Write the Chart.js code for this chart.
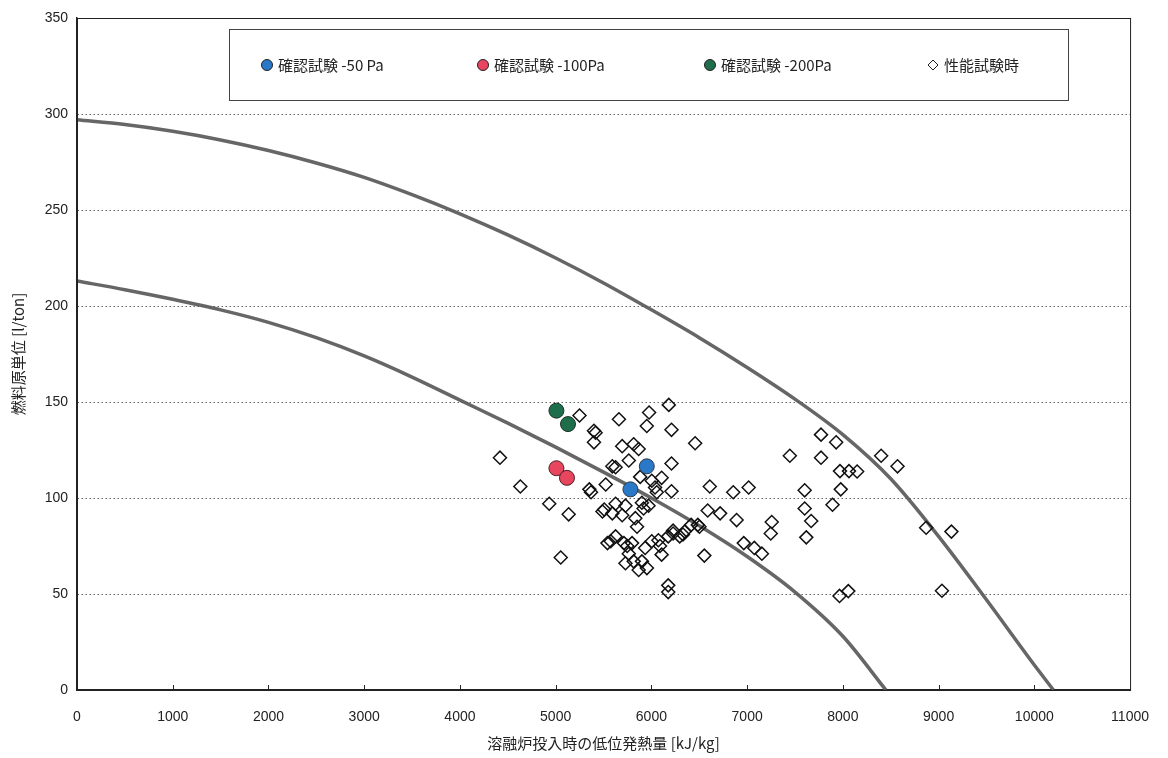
<!DOCTYPE html>
<html>
<head>
<meta charset="utf-8">
<script src="https://cdn.jsdelivr.net/npm/chart.js@4"></script>
<style>
body { margin: 0; background: #fff; }
</style>
</head>
<body>
<canvas id="fuel-graph" width="1168" height="758"></canvas>
<script>
// boundary curves
const upperX = [0, 500, 1000, 1500, 2000, 2500, 3000, 3500, 4000, 4500, 5000, 5500, 6000, 6500, 7000, 7500, 8000, 8500, 9000, 9500, 10000, 10200];
const upperY = [297, 294.5, 291, 286.5, 281, 274.5, 267, 258, 248, 237, 225, 212, 198, 183.5, 168, 151.5, 133, 110, 80, 47, 13, 0];
const lowerX = [0, 500, 1000, 1500, 2000, 2500, 3000, 3500, 4000, 4500, 5000, 5500, 6000, 6500, 7000, 7500, 8000, 8450];
const lowerY = [213, 208.5, 203.5, 198, 191.5, 183.5, 174, 163, 151, 139, 126.5, 113.5, 100, 85.5, 69.5, 51, 28, 0];

// confirmation tests
const test50X = [5952, 5781];
const test50Y = [116.5, 104.5];
const test100X = [5008, 5118];
const test100Y = [115.5, 110.5];
const test200X = [5008, 5129];
const test200Y = [145.5, 138.5];

// performance test points
const perfX = [4418, 4631, 4933, 5136, 5053, 5249, 5400, 5417, 5400, 5352, 5369, 5523, 5661, 5976, 6182, 5952, 6210, 5695, 5815, 5867,
    5764, 6210, 5592, 5626, 5883, 6004, 6107, 6038, 6056, 6210, 5901, 5626, 5507, 6457, 6610, 6855, 7016, 6588, 6718, 6890,
    6485, 6416, 6330, 6227, 7257, 7247, 6553, 6965, 7075, 7154, 7446, 7772, 7772, 7930, 7601, 7601, 7669, 7618, 7892, 7970,
    8064, 8149, 7978, 8400, 8571, 8870, 9134, 7965, 8057, 9035, 6176, 6176, 5489, 5729, 5592, 5695, 5832, 5850, 5918, 5970,
    5541, 5575, 5626, 5713, 5747, 5798, 5764, 5729, 5815, 5901, 5867, 5953, 5935, 6004, 6073, 6090, 6107, 6176, 6227, 6296,
    6347, 6502];
const perfY = [121, 106, 97, 91.5, 69, 143, 135, 134, 129, 104.5, 103, 107, 141, 144.5, 148.5, 137.5, 135.5, 127, 128, 125.5,
    119.5, 118, 116.5, 116, 111, 109, 110.5, 105.5, 103, 103.5, 97.5, 97, 94, 128.5, 106, 103, 105.5, 93.5, 92, 88.5,
    86, 86, 81, 83, 87.5, 81.5, 70, 76.5, 74, 71, 122, 133, 121, 129, 104, 94.5, 88, 79.5, 96.5, 114,
    114, 113.8, 104.5, 122, 116.5, 84.5, 82.5, 49, 51.5, 51.7, 54.5, 51, 93, 96, 92, 91, 89.5, 85, 94.5, 96,
    76.5, 77.5, 80, 76.5, 75, 76.5, 71, 66, 67, 67, 62.5, 63.5, 74, 77.5, 78, 75, 70.5, 80, 81.5, 80,
    82.5, 85];

const xTicks = [0, 1000, 2000, 3000, 4000, 5000, 6000, 7000, 8000, 9000, 10000, 11000];
const yTicks = [0, 50, 100, 150, 200, 250, 300, 350];

function toPoints(xs, ys) {
    let pts = Array(xs.length);
    for (let i = 0; i < xs.length; i++) {
        pts[i] = {x: xs[i], y: ys[i]};
    }
    return pts;
}

// legend box inside the plot + frame + small x tick marks
const boxPlugin = {
    id: 'boxPlugin',
    afterDraw(chart) {
        const ctx = chart.ctx;
        const area = chart.chartArea;
        const xs = chart.scales.x;
        ctx.save();
        ctx.strokeStyle = '#222';
        ctx.lineWidth = 1;
        ctx.strokeRect(area.left + 0.5, area.top + 0.5, area.right - area.left, area.bottom - area.top);
        for (let i = 1; i < xTicks.length - 1; i++) {
            let px = Math.round(xs.getPixelForValue(xTicks[i])) + 0.5;
            ctx.beginPath();
            ctx.moveTo(px, area.bottom);
            ctx.lineTo(px, area.bottom - 5);
            ctx.stroke();
        }

        // legend
        ctx.fillStyle = '#fff';
        ctx.fillRect(229, 29, 839, 71);
        ctx.strokeStyle = '#444';
        ctx.strokeRect(229.5, 29.5, 839, 71);
        const itemX = [267, 483, 710, 933];
        const ly = 65;
        ctx.font = '15px "Noto Sans CJK JP"';
        ctx.textBaseline = 'middle';
        const order = [2, 3, 4, 5];
        for (let i = 0; i < order.length; i++) {
            const ds = chart.data.datasets[order[i]];
            ctx.lineWidth = 1;
            ctx.strokeStyle = '#222';
            if (ds.pointStyle === 'rectRot') {
                ctx.beginPath();
                ctx.moveTo(itemX[i], ly - 5);
                ctx.lineTo(itemX[i] + 5, ly);
                ctx.lineTo(itemX[i], ly + 5);
                ctx.lineTo(itemX[i] - 5, ly);
                ctx.closePath();
                ctx.stroke();
            } else {
                ctx.beginPath();
                ctx.arc(itemX[i], ly, 5.5, 0, Math.PI * 2);
                ctx.fillStyle = ds.backgroundColor;
                ctx.fill();
                ctx.stroke();
            }
            ctx.fillStyle = '#222';
            ctx.fillText(ds.label, itemX[i] + 11, ly);
        }
        ctx.restore();
    }
};

const ctx = document.getElementById('fuel-graph');
new Chart(ctx, {
    type: 'scatter',
    data: {
        datasets: [
            {
                label: 'upper',
                data: toPoints(upperX, upperY),
                showLine: true,
                borderColor: 'rgba(85,85,85,0.9)',
                borderWidth: 3.5,
                pointRadius: 0,
                cubicInterpolationMode: 'monotone',
                order: 5
            },
            {
                label: 'lower',
                data: toPoints(lowerX, lowerY),
                showLine: true,
                borderColor: 'rgba(85,85,85,0.9)',
                borderWidth: 3.5,
                pointRadius: 0,
                cubicInterpolationMode: 'monotone',
                order: 5
            },
            {
                label: '確認試験 -50 Pa',
                data: toPoints(test50X, test50Y),
                backgroundColor: '#2a78c8',
                borderColor: '#2a3a4a',
                borderWidth: 1,
                pointRadius: 7.5,
                order: 1
            },
            {
                label: '確認試験 -100Pa',
                data: toPoints(test100X, test100Y),
                backgroundColor: '#e8455e',
                borderColor: '#4a2228',
                borderWidth: 1,
                pointRadius: 7.5,
                order: 1
            },
            {
                label: '確認試験 -200Pa',
                data: toPoints(test200X, test200Y),
                backgroundColor: '#1e6e4c',
                borderColor: '#1d3328',
                borderWidth: 1,
                pointRadius: 7.5,
                order: 1
            },
            {
                label: '性能試験時',
                data: toPoints(perfX, perfY),
                pointStyle: 'rectRot',
                backgroundColor: 'rgba(255,255,255,0)',
                borderColor: '#111',
                borderWidth: 1.5,
                pointRadius: 6.5,
                order: 2
            }
        ]
    },
    options: {
        responsive: false,
        animation: false,
        layout: {
            padding: {left: 0, right: 23, top: 18, bottom: 0}
        },
        plugins: {
            legend: {display: false},
            tooltip: {enabled: false}
        },
        scales: {
            x: {
                type: 'linear',
                min: 0,
                max: 11000,
                afterBuildTicks: (scale) => { scale.ticks = xTicks.map(v => ({value: v})); },
                afterFit: (scale) => { scale.height = 68; },
                grid: {display: false, drawTicks: false},
                border: {display: true, color: '#222', width: 1.5},
                ticks: {
                    padding: 19,
                    color: '#222',
                    font: {family: '"Liberation Sans", Arial', size: 14},
                    maxRotation: 0,
                    callback: (v) => String(v)
                },
                title: {
                    display: true,
                    text: '溶融炉投入時の低位発熱量 [kJ/kg]',
                    color: '#222',
                    font: {family: '"Noto Sans CJK JP"', size: 15},
                    padding: {top: 0, bottom: 6}
                }
            },
            y: {
                type: 'linear',
                min: 0,
                max: 350,
                afterBuildTicks: (scale) => { scale.ticks = yTicks.map(v => ({value: v})); },
                afterFit: (scale) => { scale.width = 77; },
                grid: {
                    color: '#666',
                    lineWidth: 1,
                    drawTicks: false
                },
                border: {display: true, color: '#222', width: 1.5, dash: [1.5, 2.5]},
                ticks: {
                    padding: 9,
                    color: '#222',
                    font: {family: '"Liberation Sans", Arial', size: 14},
                    callback: (v) => String(v)
                },
                title: {
                    display: true,
                    text: '燃料原単位 [l/ton]',
                    color: '#222',
                    font: {family: '"Noto Sans CJK JP"', size: 15},
                    padding: {top: 9, bottom: 0}
                }
            }
        }
    },
    plugins: [boxPlugin]
});
</script>
</body>
</html>
